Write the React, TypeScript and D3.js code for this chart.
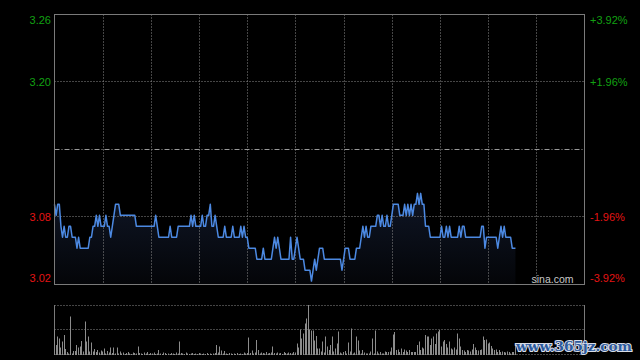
import React from 'react';
import * as d3 from 'd3';

// ---- data ----
const prevClose = 3.14;
const rangePct = 0.0392;
const totalMinutes = 330; // HK session: 9:30-12:00, 13:00-16:00
const gridDivisions = 11;

const priceLabels = ['3.26', '3.20', '3.08', '3.02'];
const pctLabels = ['+3.92%', '+1.96%', '-1.96%', '-3.92%'];
const labelLevels = [1, 0.5, -0.5, -1];

const prices = [
  3.09, 3.08, 3.09, 3.09, 3.07, 3.06, 3.07, 3.06, 3.06, 3.07,
  3.07, 3.06, 3.06, 3.06, 3.05, 3.06, 3.05, 3.05, 3.05, 3.05,
  3.05, 3.05, 3.06, 3.06, 3.07, 3.07, 3.08, 3.07, 3.08, 3.07,
  3.07, 3.07, 3.08, 3.07, 3.07, 3.06, 3.07, 3.08, 3.09, 3.09,
  3.09, 3.08, 3.08, 3.08, 3.08, 3.08, 3.08, 3.08, 3.08, 3.08,
  3.08, 3.07, 3.07, 3.07, 3.07, 3.07, 3.07, 3.07, 3.07, 3.07,
  3.07, 3.07, 3.07, 3.08, 3.07, 3.06, 3.06, 3.06, 3.06, 3.06,
  3.06, 3.06, 3.07, 3.06, 3.06, 3.06, 3.06, 3.07, 3.07, 3.07,
  3.07, 3.07, 3.07, 3.07, 3.07, 3.08, 3.07, 3.08, 3.07, 3.07,
  3.07, 3.07, 3.08, 3.07, 3.07, 3.08, 3.08, 3.09, 3.07, 3.07,
  3.08, 3.07, 3.06, 3.06, 3.06, 3.06, 3.07, 3.06, 3.06, 3.06,
  3.06, 3.07, 3.06, 3.06, 3.06, 3.06, 3.07, 3.06, 3.07, 3.06,
  3.06, 3.05, 3.05, 3.05, 3.05, 3.05, 3.04, 3.04, 3.04, 3.04,
  3.05, 3.04, 3.04, 3.04, 3.04, 3.04, 3.05, 3.06, 3.05, 3.06,
  3.05, 3.04, 3.04, 3.04, 3.04, 3.04, 3.04, 3.06, 3.04, 3.04,
  3.05, 3.06, 3.05, 3.04, 3.04, 3.04, 3.03, 3.03, 3.03, 3.03,
  3.02, 3.03, 3.04, 3.03, 3.04, 3.05, 3.05, 3.05, 3.04, 3.04,
  3.04, 3.04, 3.04, 3.04, 3.04, 3.04, 3.04, 3.04, 3.04, 3.03,
  3.04, 3.05, 3.05, 3.05, 3.04, 3.04, 3.04, 3.04, 3.05, 3.05,
  3.05, 3.06, 3.07, 3.06, 3.07, 3.06, 3.06, 3.07, 3.07, 3.07,
  3.07, 3.08, 3.08, 3.07, 3.08, 3.07, 3.07, 3.08, 3.07, 3.07,
  3.08, 3.09, 3.09, 3.09, 3.09, 3.08, 3.08, 3.08, 3.09, 3.08,
  3.09, 3.08, 3.09, 3.08, 3.09, 3.09, 3.10, 3.09, 3.10, 3.09,
  3.09, 3.07, 3.07, 3.07, 3.06, 3.06, 3.06, 3.06, 3.06, 3.06,
  3.06, 3.07, 3.06, 3.06, 3.07, 3.06, 3.07, 3.06, 3.06, 3.06,
  3.06, 3.06, 3.07, 3.06, 3.07, 3.07, 3.06, 3.06, 3.06, 3.06,
  3.06, 3.06, 3.06, 3.06, 3.06, 3.06, 3.07, 3.07, 3.05, 3.06,
  3.06, 3.06, 3.06, 3.06, 3.06, 3.06, 3.05, 3.06, 3.07, 3.06,
  3.07, 3.06, 3.06, 3.06, 3.06, 3.05, 3.05, 3.05,
];

const volumes = [
  51, 20, 37, 33, 15, 27, 40, 12, 6, 3,
  77, 3, 8, 8, 20, 15, 17, 28, 7, 67,
  27, 37, 7, 25, 7, 12, 6, 10, 5, 9,
  7, 13, 3, 8, 5, 15, 4, 15, 3, 15,
  3, 7, 3, 5, 2, 4, 6, 3, 2, 5,
  4, 3, 17, 4, 3, 2, 5, 3, 6, 2,
  4, 3, 5, 2, 3, 10, 3, 2, 5, 4,
  2, 3, 2, 4, 3, 2, 5, 3, 27, 4,
  3, 2, 5, 3, 2, 3, 4, 2, 3, 2,
  4, 3, 2, 3, 2, 4, 2, 3, 2, 3,
  4, 20, 5, 17, 9, 3, 8, 3, 2, 4,
  3, 2, 3, 2, 4, 2, 3, 2, 5, 3,
  4, 35, 4, 9, 3, 5, 30, 10, 3, 5,
  4, 3, 6, 3, 4, 5, 17, 4, 3, 5,
  3, 4, 2, 6, 4, 3, 5, 4, 3, 6,
  5, 23, 15, 51, 33, 43, 63, 73, 100, 51,
  49, 49, 29, 38, 13, 13, 7, 27, 5, 37,
  17, 10, 20, 37, 7, 13, 23, 47, 5, 3,
  6, 8, 3, 25, 7, 53, 3, 5, 37, 29,
  9, 3, 10, 5, 3, 3, 3, 7, 33, 3,
  49, 7, 3, 6, 3, 3, 7, 6, 6, 7,
  15, 41, 46, 10, 11, 6, 13, 6, 11, 9,
  6, 10, 6, 6, 6, 6, 20, 27, 10, 15,
  13, 40, 37, 37, 20, 33, 37, 22, 43, 47,
  50, 17, 27, 30, 22, 15, 27, 13, 11, 15,
  11, 43, 33, 17, 10, 9, 6, 10, 9, 7,
  11, 22, 15, 10, 9, 10, 11, 37, 30, 31,
  23, 25, 18, 13, 10, 11, 6, 10, 6, 7,
  6, 5, 7, 6, 3, 6, 6, 20,
];

// ---- layout ----
const W = 640;
const H = 360;
const left = 54.5;
const right = 584.5;
const top = 14.5;
const bottom = 284.5;
const volTop = 305;
const volBottom = 355;

const GREEN = '#12a012';
const RED = '#e41414';
const GRID = '#8a8a8a';
const BORDER = '#7a7a7a';
const FONT = 'Arial, "Liberation Sans", sans-serif';

export default function App() {
  const x = d3.scaleLinear().domain([0, totalMinutes]).range([left, right]);
  const lo = prevClose * (1 - rangePct);
  const hi = prevClose * (1 + rangePct);
  const y = d3.scaleLinear().domain([lo, hi]).range([bottom, top]);
  const vMax = d3.max(volumes) as number;
  const yv = d3.scaleLinear().domain([0, vMax]).range([volBottom, volTop]);

  const line = d3
    .line<number>()
    .x((_, i) => x(i))
    .y((d) => y(d));
  const area = d3
    .area<number>()
    .x((_, i) => x(i))
    .y0(bottom)
    .y1((d) => y(d));

  const vGrid = d3.range(1, gridDivisions).map((k) => Math.round(left + ((right - left) * k) / gridDivisions) + 0.5);
  const hLevels = [0.5, -0.5].map((f) => Math.floor(y(prevClose * (1 + f * rangePct))) + 0.5);
  const midY = Math.floor(y(prevClose)) + 0.5;

  const labelY = (f: number) => {
    const ly = y(prevClose * (1 + f * rangePct));
    if (f === 1) return ly + 5.5 + 4;
    if (f === -1) return ly - 6.5 + 4;
    return ly + 4;
  };

  return (
    <svg
      width={W}
      height={H}
      style={{ position: 'absolute', left: 0, top: 0, display: 'block' }}
      xmlns="http://www.w3.org/2000/svg"
    >
      <defs>
        <linearGradient id="fillGrad" x1="0" y1="0" x2="0" y2="1">
          <stop offset="0%" stopColor="#0f1626" />
          <stop offset="100%" stopColor="#040508" />
        </linearGradient>
      </defs>
      <rect x={0} y={0} width={W} height={H} fill="#000" />

      {/* price area */}
      <path d={area(prices) || ''} fill="url(#fillGrad)" />

      {/* grid */}
      {vGrid.map((gx, i) => (
        <line key={'v' + i} x1={gx} x2={gx} y1={top} y2={bottom} stroke={GRID} strokeWidth={1} strokeDasharray="1,2" />
      ))}
      {hLevels.map((gy, i) => (
        <line key={'h' + i} x1={left} x2={right} y1={gy} y2={gy} stroke={GRID} strokeWidth={1} strokeDasharray="1,2" />
      ))}
      <line x1={left} x2={right} y1={midY} y2={midY} stroke="#9a9a9a" strokeWidth={1} strokeDasharray="5,2,1,2" />

      {/* price line */}
      <path d={line(prices) || ''} fill="none" stroke="#4c89e2" strokeWidth={1.5} strokeLinejoin="round" />

      {/* border */}
      <rect x={left} y={top} width={right - left} height={bottom - top} fill="none" stroke={BORDER} strokeWidth={1} />

      {/* labels */}
      {priceLabels.map((t, i) => (
        <text
          key={'pl' + i}
          x={51}
          y={labelY(labelLevels[i])}
          textAnchor="end"
          fontFamily={FONT}
          fontSize={11}
          fill={labelLevels[i] > 0 ? GREEN : RED}
        >
          {t}
        </text>
      ))}
      {pctLabels.map((t, i) => (
        <text
          key={'pc' + i}
          x={590}
          y={labelY(labelLevels[i])}
          textAnchor="start"
          fontFamily={FONT}
          fontSize={11}
          fill={labelLevels[i] > 0 ? GREEN : RED}
        >
          {t}
        </text>
      ))}
      <text x={573.5} y={282.5} textAnchor="end" fontFamily={FONT} fontSize={10.5} fill="#c8c8c8">
        sina.com
      </text>

      {/* volume panel */}
      <line x1={left} x2={right} y1={volTop + 0.5} y2={volTop + 0.5} stroke={GRID} strokeDasharray="1,2" />
      <line x1={left} x2={right} y1={329.5} y2={329.5} stroke={GRID} strokeDasharray="1,2" />
      <line x1={left} x2={right} y1={volBottom - 0.5} y2={volBottom - 0.5} stroke={GRID} strokeDasharray="1,2" />
      <line x1={left} x2={left} y1={volTop} y2={volBottom} stroke={BORDER} />
      <line x1={right} x2={right} y1={volTop} y2={volBottom} stroke={BORDER} />
      {volumes.map((v, i) => (
        <rect
          key={'vb' + i}
          x={Math.floor(x(i))}
          y={yv(v)}
          width={1}
          height={volBottom - yv(v)}
          fill="#8c8c8c"
        />
      ))}

      {/* watermark */}
      <text
        x={516}
        y={351}
        textLength={116}
        lengthAdjust="spacingAndGlyphs"
        fontFamily='"DejaVu Serif", serif'
        fontWeight="bold"
        fontSize={13.5}
        fill="#2c5a9e"
        stroke="#d8dde8"
        strokeWidth={2}
        style={{ paintOrder: 'stroke' }}
      >
        www.365jz.com
      </text>
    </svg>
  );
}
